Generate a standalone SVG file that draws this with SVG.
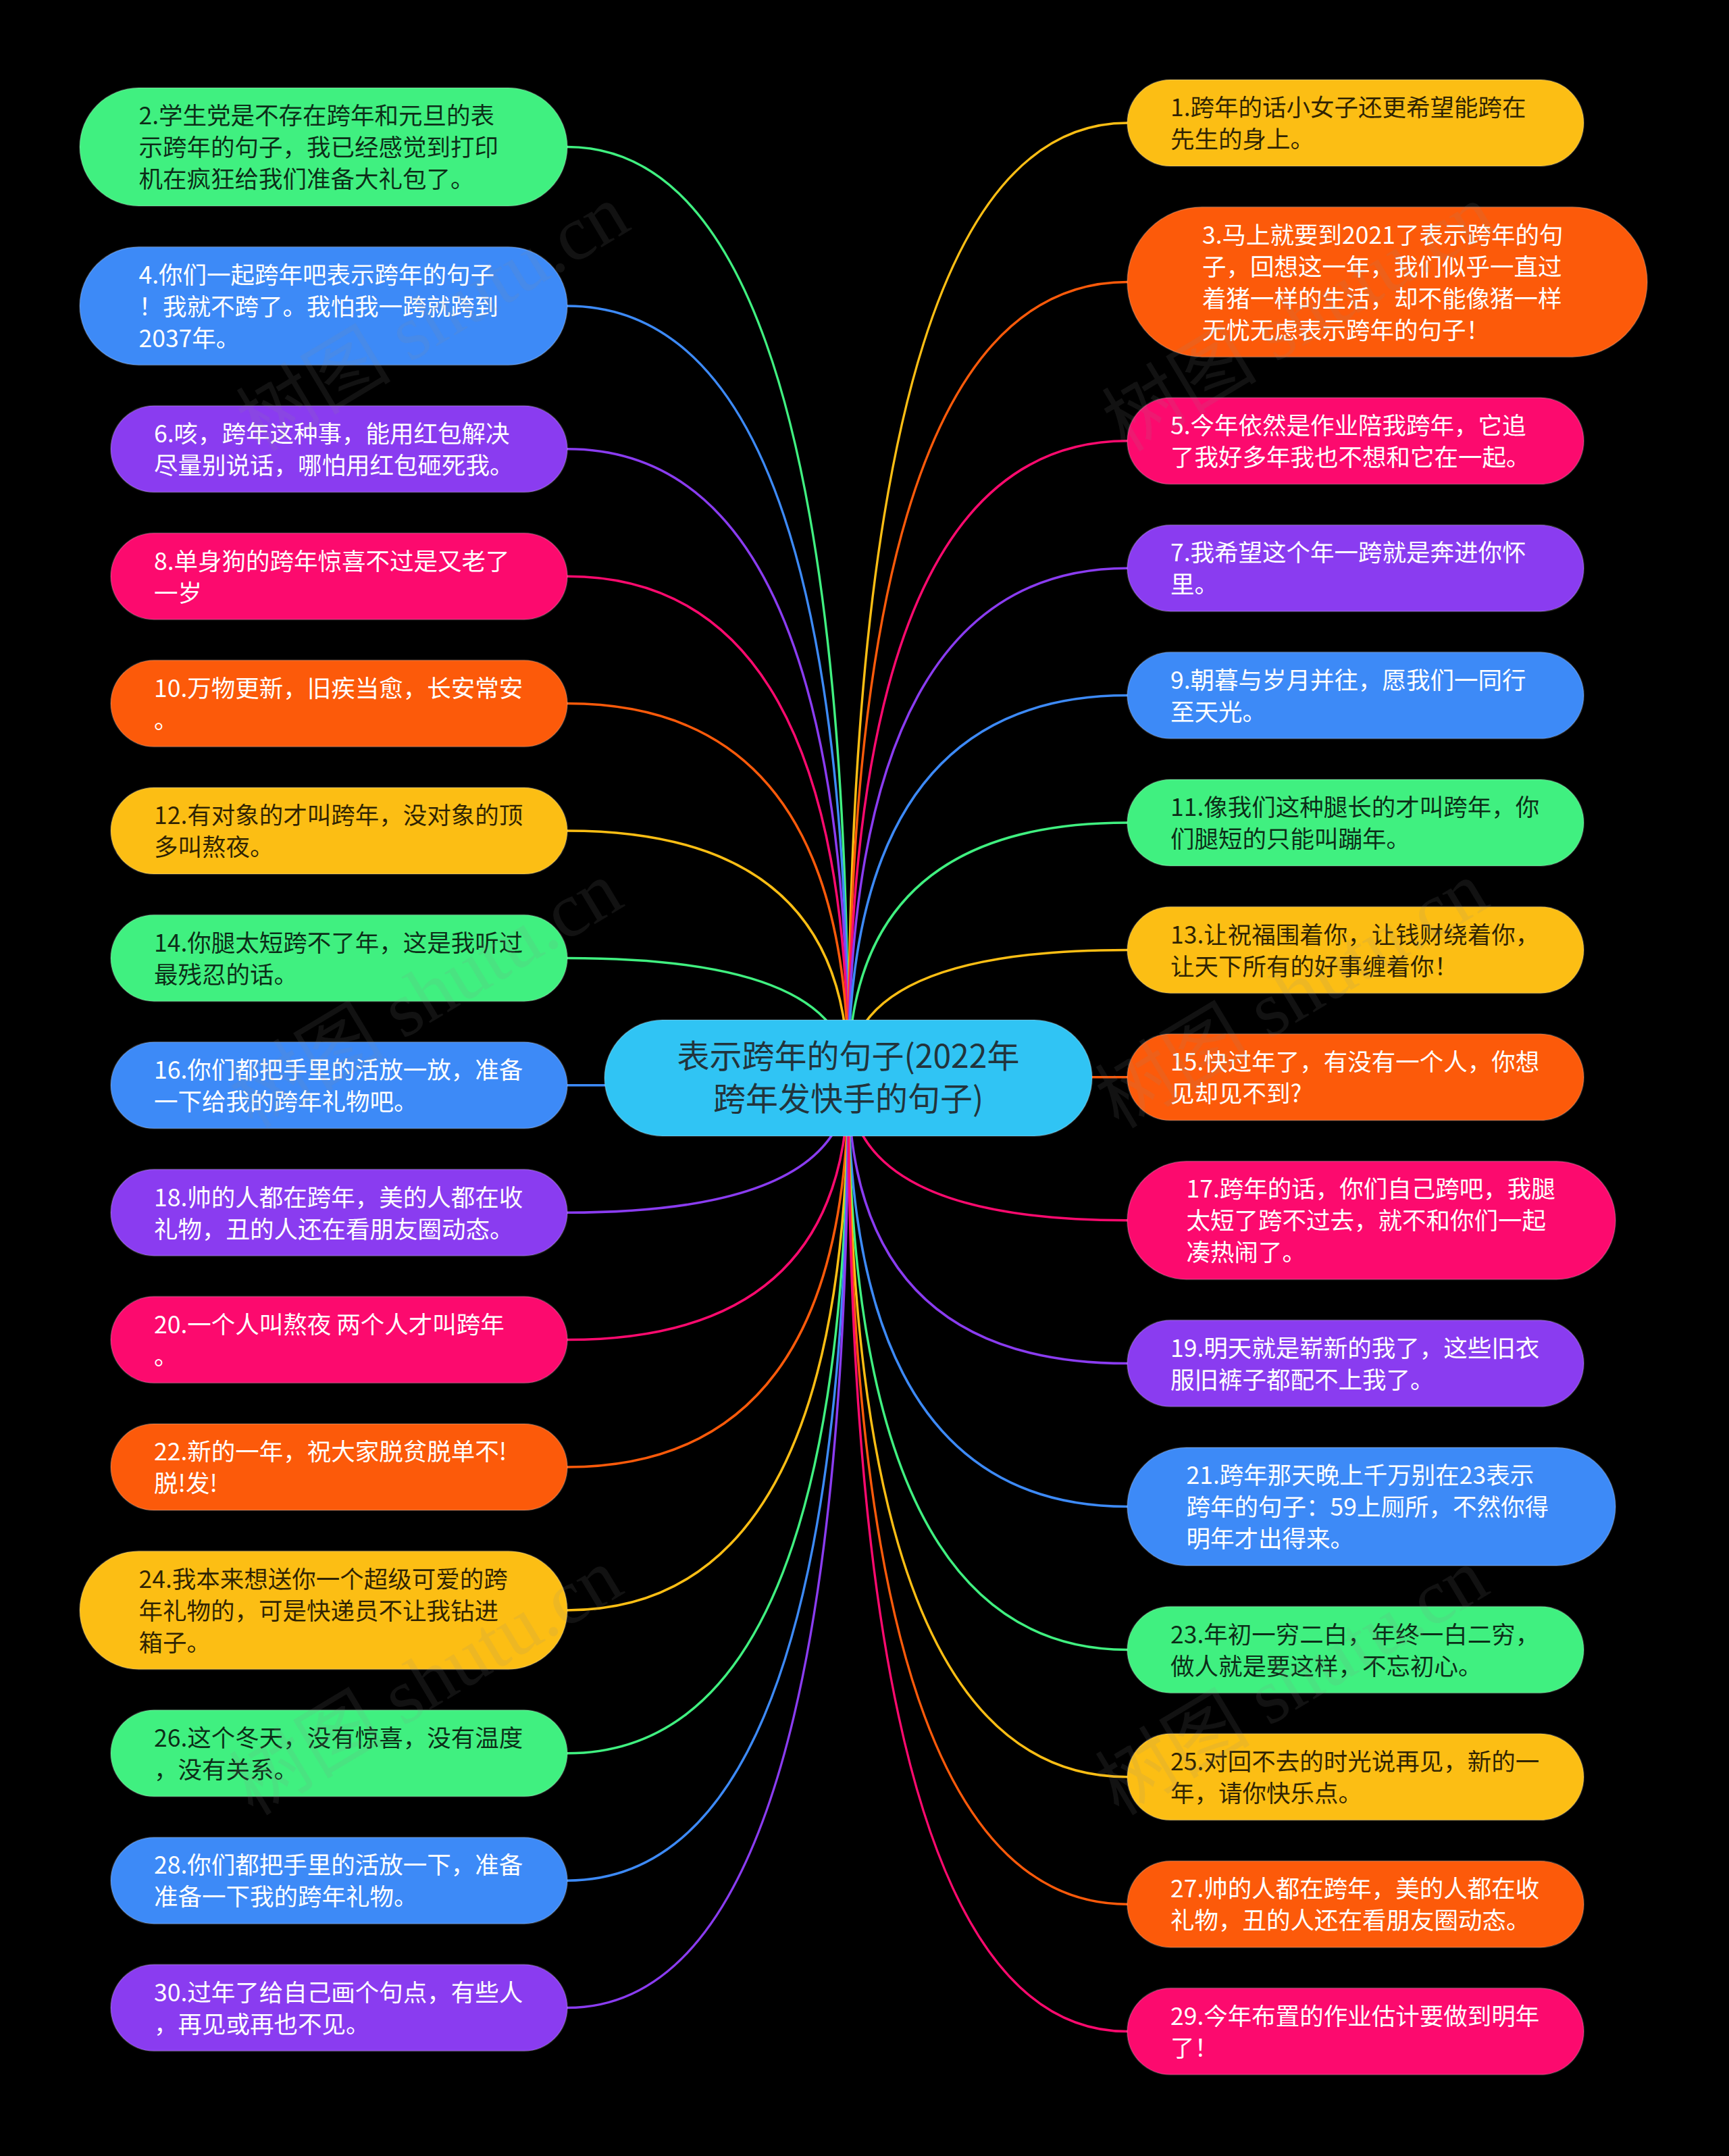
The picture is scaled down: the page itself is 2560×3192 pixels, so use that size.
<svg xmlns="http://www.w3.org/2000/svg" width="2560" height="3192" viewBox="0 0 2560 3192">
<style>
.bg{fill:#000}
.g{fill:#40F080}.b{fill:#3D8AF7}.p{fill:#8A3CF0}.k{fill:#FC0A6E}.o{fill:#FC5A0A}.y{fill:#FCBE14}
.nd rect{stroke:#fff;stroke-opacity:.18;stroke-width:2}
.c path{fill:none;stroke-width:3.5}
.cg{stroke:#40F080}.cb{stroke:#3D8AF7}.cp{stroke:#8A3CF0}.ck{stroke:#FC0A6E}.co{stroke:#FC5A0A}.cy{stroke:#FCBE14}
text{font-family:"Noto Sans CJK SC","Noto Sans",sans-serif;font-size:35.5px}
.dk{fill:#000;fill-opacity:.82}
.wt{fill:#fff}
.ct{font-size:48px;fill:#22343c;text-anchor:middle}
.wm{font-family:"Liberation Serif","Noto Sans CJK SC",serif;font-size:115px;fill:#8a8a8a;fill-opacity:.13;text-anchor:middle}
</style>
<rect class="bg" x="0" y="0" width="2560" height="3192"/>
<g id="connectors" class="c">
<path class="cg" d="M1256 1596 Q1256 217.5 840 217.5"/>
<path class="cb" d="M1256 1596 Q1256 452.9 840 452.9"/>
<path class="cp" d="M1256 1596 Q1256 664.8 840 664.8"/>
<path class="ck" d="M1256 1596 Q1256 853.2 840 853.2"/>
<path class="co" d="M1256 1596 Q1256 1041.6 840 1041.6"/>
<path class="cy" d="M1256 1596 Q1256 1230 840 1230"/>
<path class="cg" d="M1256 1596 Q1256 1418.4 840 1418.4"/>
<path class="cb" d="M1256 1596 Q1256 1606.8 840 1606.8"/>
<path class="cp" d="M1256 1596 Q1256 1795.2 840 1795.2"/>
<path class="ck" d="M1256 1596 Q1256 1983.6 840 1983.6"/>
<path class="co" d="M1256 1596 Q1256 2172 840 2172"/>
<path class="cy" d="M1256 1596 Q1256 2383.9 840 2383.9"/>
<path class="cg" d="M1256 1596 Q1256 2595.8 840 2595.8"/>
<path class="cb" d="M1256 1596 Q1256 2784.2 840 2784.2"/>
<path class="cp" d="M1256 1596 Q1256 2972.6 840 2972.6"/>
<path class="cy" d="M1256 1596 Q1256 182 1669 182"/>
<path class="co" d="M1256 1596 Q1256 417.4 1669 417.4"/>
<path class="ck" d="M1256 1596 Q1256 652.8 1669 652.8"/>
<path class="cp" d="M1256 1596 Q1256 841.2 1669 841.2"/>
<path class="cb" d="M1256 1596 Q1256 1029.6 1669 1029.6"/>
<path class="cg" d="M1256 1596 Q1256 1218 1669 1218"/>
<path class="cy" d="M1256 1596 Q1256 1406.4 1669 1406.4"/>
<path class="co" d="M1256 1596 Q1256 1594.8 1669 1594.8"/>
<path class="ck" d="M1256 1596 Q1256 1806.7 1669 1806.7"/>
<path class="cp" d="M1256 1596 Q1256 2018.6 1669 2018.6"/>
<path class="cb" d="M1256 1596 Q1256 2230.5 1669 2230.5"/>
<path class="cg" d="M1256 1596 Q1256 2442.4 1669 2442.4"/>
<path class="cy" d="M1256 1596 Q1256 2630.8 1669 2630.8"/>
<path class="co" d="M1256 1596 Q1256 2819.2 1669 2819.2"/>
<path class="ck" d="M1256 1596 Q1256 3007.6 1669 3007.6"/>
</g>
<g id="center" class="nd">
<rect x="895" y="1510" width="722" height="172" rx="86" fill="#30C4F4"/>
<text class="ct" x="1256" y="1581">表示跨年的句子(2022年<tspan x="1256" dy="63">跨年发快手的句子)</tspan></text>
</g>
<g id="n2" class="nd"><rect class="g" x="118" y="130" width="722" height="175" rx="87.5"/>
<text class="dk" x="205.5" y="184">2.学生党是不存在跨年和元旦的表<tspan x="205.5" dy="47">示跨年的句子，我已经感觉到打印</tspan><tspan x="205.5" dy="47">机在疯狂给我们准备大礼包了。</tspan></text></g>
<g id="n4" class="nd"><rect class="b" x="118" y="365.4" width="722" height="175" rx="87.5"/>
<text class="wt" x="205.5" y="419.5">4.你们一起跨年吧表示跨年的句子<tspan x="205.5" dy="47">！我就不跨了。我怕我一跨就跨到</tspan><tspan x="205.5" dy="47">2037年。</tspan></text></g>
<g id="n6" class="nd"><rect class="p" x="164" y="600.8" width="676" height="128" rx="64"/>
<text class="wt" x="228" y="654.5">6.咳，跨年这种事，能用红包解决<tspan x="228" dy="47">尽量别说话，哪怕用红包砸死我。</tspan></text></g>
<g id="n8" class="nd"><rect class="k" x="164" y="789.2" width="676" height="128" rx="64"/>
<text class="wt" x="228" y="843.5">8.单身狗的跨年惊喜不过是又老了<tspan x="228" dy="47">一岁</tspan></text></g>
<g id="n10" class="nd"><rect class="o" x="164" y="977.6" width="676" height="128" rx="64"/>
<text class="wt" x="228" y="1031.5">10.万物更新，旧疾当愈，长安常安<tspan x="228" dy="47">。</tspan></text></g>
<g id="n12" class="nd"><rect class="y" x="164" y="1166" width="676" height="128" rx="64"/>
<text class="dk" x="228" y="1220">12.有对象的才叫跨年，没对象的顶<tspan x="228" dy="47">多叫熬夜。</tspan></text></g>
<g id="n14" class="nd"><rect class="g" x="164" y="1354.4" width="676" height="128" rx="64"/>
<text class="dk" x="228" y="1408.5">14.你腿太短跨不了年，这是我听过<tspan x="228" dy="47">最残忍的话。</tspan></text></g>
<g id="n16" class="nd"><rect class="b" x="164" y="1542.8" width="676" height="128" rx="64"/>
<text class="wt" x="228" y="1596.5">16.你们都把手里的活放一放，准备<tspan x="228" dy="47">一下给我的跨年礼物吧。</tspan></text></g>
<g id="n18" class="nd"><rect class="p" x="164" y="1731.2" width="676" height="128" rx="64"/>
<text class="wt" x="228" y="1785.5">18.帅的人都在跨年，美的人都在收<tspan x="228" dy="47">礼物，丑的人还在看朋友圈动态。</tspan></text></g>
<g id="n20" class="nd"><rect class="k" x="164" y="1919.6" width="676" height="128" rx="64"/>
<text class="wt" x="228" y="1973.5">20.一个人叫熬夜 两个人才叫跨年<tspan x="228" dy="47">。</tspan></text></g>
<g id="n22" class="nd"><rect class="o" x="164" y="2108" width="676" height="128" rx="64"/>
<text class="wt" x="228" y="2162">22.新的一年，祝大家脱贫脱单不!<tspan x="228" dy="47">脱!发!</tspan></text></g>
<g id="n24" class="nd"><rect class="y" x="118" y="2296.4" width="722" height="175" rx="87.5"/>
<text class="dk" x="205.5" y="2350.5">24.我本来想送你一个超级可爱的跨<tspan x="205.5" dy="47">年礼物的，可是快递员不让我钻进</tspan><tspan x="205.5" dy="47">箱子。</tspan></text></g>
<g id="n26" class="nd"><rect class="g" x="164" y="2531.8" width="676" height="128" rx="64"/>
<text class="dk" x="228" y="2585.5">26.这个冬天，没有惊喜，没有温度<tspan x="228" dy="47">，没有关系。</tspan></text></g>
<g id="n28" class="nd"><rect class="b" x="164" y="2720.2" width="676" height="128" rx="64"/>
<text class="wt" x="228" y="2774">28.你们都把手里的活放一下，准备<tspan x="228" dy="47">准备一下我的跨年礼物。</tspan></text></g>
<g id="n30" class="nd"><rect class="p" x="164" y="2908.6" width="676" height="128" rx="64"/>
<text class="wt" x="228" y="2962.5">30.过年了给自己画个句点，有些人<tspan x="228" dy="47">，再见或再也不见。</tspan></text></g>
<g id="n1" class="nd"><rect class="y" x="1669" y="118" width="676" height="128" rx="64"/>
<text class="dk" x="1733" y="172">1.跨年的话小女子还更希望能跨在<tspan x="1733" dy="47">先生的身上。</tspan></text></g>
<g id="n3" class="nd"><rect class="o" x="1669" y="306.4" width="770" height="222" rx="111"/>
<text class="wt" x="1780" y="360.5">3.马上就要到2021了表示跨年的句<tspan x="1780" dy="47">子，回想这一年，我们似乎一直过</tspan><tspan x="1780" dy="47">着猪一样的生活，却不能像猪一样</tspan><tspan x="1780" dy="47">无忧无虑表示跨年的句子！</tspan></text></g>
<g id="n5" class="nd"><rect class="k" x="1669" y="588.8" width="676" height="128" rx="64"/>
<text class="wt" x="1733" y="642.5">5.今年依然是作业陪我跨年，它追<tspan x="1733" dy="47">了我好多年我也不想和它在一起。</tspan></text></g>
<g id="n7" class="nd"><rect class="p" x="1669" y="777.2" width="676" height="128" rx="64"/>
<text class="wt" x="1733" y="831">7.我希望这个年一跨就是奔进你怀<tspan x="1733" dy="47">里。</tspan></text></g>
<g id="n9" class="nd"><rect class="b" x="1669" y="965.6" width="676" height="128" rx="64"/>
<text class="wt" x="1733" y="1019.5">9.朝暮与岁月并往，愿我们一同行<tspan x="1733" dy="47">至天光。</tspan></text></g>
<g id="n11" class="nd"><rect class="g" x="1669" y="1154" width="676" height="128" rx="64"/>
<text class="dk" x="1733" y="1208">11.像我们这种腿长的才叫跨年，你<tspan x="1733" dy="47">们腿短的只能叫蹦年。</tspan></text></g>
<g id="n13" class="nd"><rect class="y" x="1669" y="1342.4" width="676" height="128" rx="64"/>
<text class="dk" x="1733" y="1396.5">13.让祝福围着你，让钱财绕着你，<tspan x="1733" dy="47">让天下所有的好事缠着你！</tspan></text></g>
<g id="n15" class="nd"><rect class="o" x="1669" y="1530.8" width="676" height="128" rx="64"/>
<text class="wt" x="1733" y="1584.5">15.快过年了，有没有一个人，你想<tspan x="1733" dy="47">见却见不到?</tspan></text></g>
<g id="n17" class="nd"><rect class="k" x="1669" y="1719.2" width="723" height="175" rx="87.5"/>
<text class="wt" x="1756.5" y="1773">17.跨年的话，你们自己跨吧，我腿<tspan x="1756.5" dy="47">太短了跨不过去，就不和你们一起</tspan><tspan x="1756.5" dy="47">凑热闹了。</tspan></text></g>
<g id="n19" class="nd"><rect class="p" x="1669" y="1954.6" width="676" height="128" rx="64"/>
<text class="wt" x="1733" y="2008.5">19.明天就是崭新的我了，这些旧衣<tspan x="1733" dy="47">服旧裤子都配不上我了。</tspan></text></g>
<g id="n21" class="nd"><rect class="b" x="1669" y="2143" width="723" height="175" rx="87.5"/>
<text class="wt" x="1756.5" y="2197">21.跨年那天晚上千万别在23表示<tspan x="1756.5" dy="47">跨年的句子：59上厕所，不然你得</tspan><tspan x="1756.5" dy="47">明年才出得来。</tspan></text></g>
<g id="n23" class="nd"><rect class="g" x="1669" y="2378.4" width="676" height="128" rx="64"/>
<text class="dk" x="1733" y="2432.5">23.年初一穷二白，年终一白二穷，<tspan x="1733" dy="47">做人就是要这样，不忘初心。</tspan></text></g>
<g id="n25" class="nd"><rect class="y" x="1669" y="2566.8" width="676" height="128" rx="64"/>
<text class="dk" x="1733" y="2620.5">25.对回不去的时光说再见，新的一<tspan x="1733" dy="47">年，请你快乐点。</tspan></text></g>
<g id="n27" class="nd"><rect class="o" x="1669" y="2755.2" width="676" height="128" rx="64"/>
<text class="wt" x="1733" y="2809">27.帅的人都在跨年，美的人都在收<tspan x="1733" dy="47">礼物，丑的人还在看朋友圈动态。</tspan></text></g>
<g id="n29" class="nd"><rect class="k" x="1669" y="2943.6" width="676" height="128" rx="64"/>
<text class="wt" x="1733" y="2997.5">29.今年布置的作业估计要做到明年<tspan x="1733" dy="47">了！</tspan></text></g>
<g id="watermarks">
<text class="wm" transform="translate(661 504) rotate(-31)">树图 shutu.cn</text>
<text class="wm" transform="translate(1943 504) rotate(-31)">树图 shutu.cn</text>
<text class="wm" transform="translate(651 1506) rotate(-31)">树图 shutu.cn</text>
<text class="wm" transform="translate(1933 1506) rotate(-31)">树图 shutu.cn</text>
<text class="wm" transform="translate(651 2523) rotate(-31)">树图 shutu.cn</text>
<text class="wm" transform="translate(1933 2523) rotate(-31)">树图 shutu.cn</text>
</g>
</svg>
